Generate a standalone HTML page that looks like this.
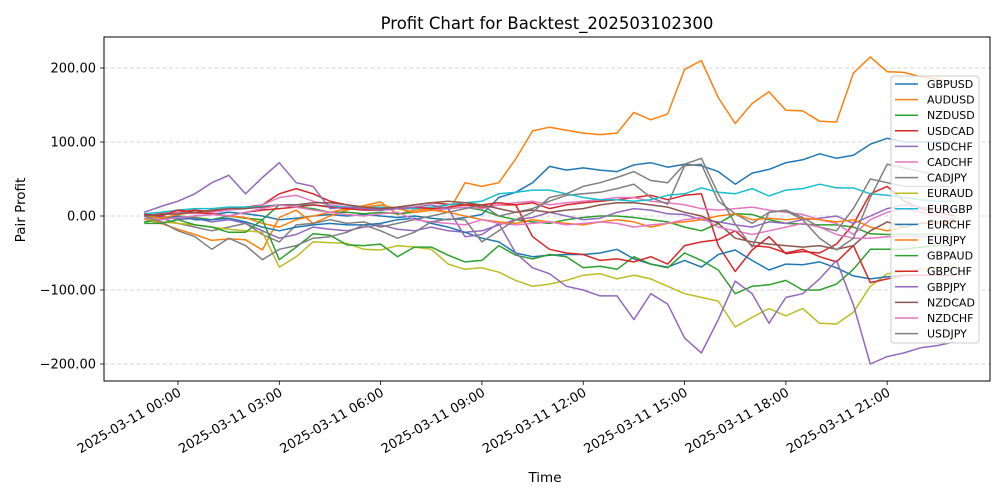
<!DOCTYPE html>
<html><head><meta charset="utf-8"><style>
html,body{margin:0;padding:0;background:#fff;}
svg{display:block;font-family:"DejaVu Sans","Liberation Sans",sans-serif;}
</style></head><body>
<svg id="chart" width="1000" height="500" viewBox="0 0 1000 500" xmlns="http://www.w3.org/2000/svg">
<rect x="0" y="0" width="1000" height="500" fill="#fff"/>
<text x="547" y="29" font-size="16.5" text-anchor="middle" fill="#000">Profit Chart for Backtest_202503102300</text>
<g id="grid"></g>
<g id="series"></g>
<rect x="104" y="37" width="886" height="344" fill="none" stroke="#000" stroke-width="1"/>
<g id="axes"></g>
<text x="545" y="482" font-size="13.5" text-anchor="middle">Time</text>
<text transform="translate(25,210) rotate(-90)" font-size="13.5" text-anchor="middle">Pair Profit</text>
<g id="legend"></g>
</svg>
<script>
const hours = [];
for (let i = 0; i <= 48; i++) hours.push(-1 + i * 0.5);
const yTicks = [200, 100, 0, -100, -200];
const yTickLabels = ["200.00", "100.00", "0.00", "\u2212100.00", "\u2212200.00"];
const xTicks = [0, 3, 6, 9, 12, 15, 18, 21];
const xTickLabels = ["2025-03-11 00:00","2025-03-11 03:00","2025-03-11 06:00","2025-03-11 09:00","2025-03-11 12:00","2025-03-11 15:00","2025-03-11 18:00","2025-03-11 21:00"];
const pairNames = ["GBPUSD","AUDUSD","NZDUSD","USDCAD","USDCHF","CADCHF","CADJPY","EURAUD","EURGBP","EURCHF","EURJPY","GBPAUD","GBPCHF","GBPJPY","NZDCAD","NZDCHF","USDJPY"];
const pairColors = ["#1f77b4","#ff7f0e","#2ca02c","#d62728","#9467bd","#e377c2","#7f7f7f","#bcbd22","#17becf","#1f77b4","#ff7f0e","#2ca02c","#d62728","#9467bd","#8c564b","#e377c2","#7f7f7f"];
const GBPUSD = [0,-2,-3,0,2,5,3,0,-5,-3,0,2,0,2,0,-2,0,-3,-5,-2,2,25,32,45,67,62,65,62,60,69,72,66,70,68,60,43,58,63,72,76,84,78,82,97,105,100,100,100,100];
const AUDUSD = [-4,-10,-18,-25,-33,-31,-32,-46,-2,8,-10,0,8,14,19,2,8,10,5,45,40,45,77,115,120,116,112,110,112,140,130,138,198,210,160,125,152,168,143,142,128,127,193,215,195,194,188,185,180];
const NZDUSD = [-8,-5,0,-2,-5,0,-3,-5,15,12,10,5,5,3,5,3,5,8,10,12,8,0,-5,-8,-10,-5,-2,0,0,-2,-5,-8,-15,-20,-10,3,2,-5,-10,-11,-12,-12,-15,-24,-25,-25,-25,-25,-25];
const USDCAD = [0,3,5,8,6,10,12,15,30,37,30,20,15,12,10,12,15,18,16,15,12,15,15,18,10,15,18,20,22,25,28,22,28,30,-40,-75,-46,-28,-51,-48,-50,-38,-11,30,40,20,10,5,0];
const USDCHF = [3,0,-5,-3,-8,-5,-10,-20,-30,-25,-15,-18,-20,-15,-12,-18,-20,-15,-20,-22,-20,-12,-5,-2,5,0,-5,-3,5,10,8,3,2,-5,-8,-12,-15,-8,-10,-5,-3,0,-10,0,10,15,12,10,10];
const CADCHF = [0,2,5,3,5,8,10,15,25,28,20,15,12,10,8,10,5,8,10,12,10,15,18,20,15,18,20,22,25,25,20,18,15,10,8,10,12,8,5,2,-5,-10,-25,-5,5,10,5,0,-5];
const CADJPY = [2,-3,-10,-15,-20,-15,-10,-25,-35,-12,-10,-5,-10,-8,-15,-10,-5,0,5,10,15,0,5,10,20,28,30,32,37,43,25,16,68,70,20,3,-10,5,8,-2,-15,-20,10,50,45,40,40,40,40];
const EURAUD = [-3,-8,-10,-12,-15,-18,-20,-22,-69,-55,-35,-36,-37,-45,-46,-40,-42,-45,-65,-72,-70,-76,-87,-95,-92,-87,-80,-78,-85,-80,-85,-95,-105,-110,-115,-150,-137,-125,-135,-125,-145,-146,-130,-95,-78,-75,-72,-70,-68];
const EURGBP = [3,5,8,10,10,12,12,13,15,15,15,13,12,12,12,10,10,12,15,18,20,30,32,35,35,30,25,22,22,20,22,28,30,38,32,30,37,27,35,37,43,38,38,30,28,25,22,20,20];
const EURCHF = [0,-3,0,-5,-5,-3,-8,-15,-20,-15,-12,-10,-12,-12,-10,-5,-3,-10,-15,-22,-30,-35,-50,-55,-53,-52,-52,-50,-45,-58,-65,-69,-60,-69,-52,-46,-60,-73,-65,-66,-62,-70,-81,-85,-82,-80,-80,-80,-80];
const EURJPY = [0,-3,2,5,3,0,-2,-10,-15,-5,0,5,10,12,15,10,5,8,5,0,-5,-8,-10,-5,-8,-10,-12,-8,-5,-8,-15,-10,-8,-5,0,3,-5,-3,-5,-3,-5,-8,-5,-15,-20,-15,-10,-10,-10];
const GBPAUD = [-10,-10,-5,-12,-15,-22,-22,-5,-59,-42,-24,-26,-39,-40,-38,-55,-42,-42,-53,-62,-60,-40,-53,-58,-52,-55,-70,-68,-72,-55,-65,-70,-50,-60,-73,-105,-95,-93,-87,-100,-100,-92,-72,-45,-45,-45,-42,-40,-40];
const GBPCHF = [2,0,8,5,3,0,5,8,10,12,15,12,10,8,8,10,12,10,12,15,15,18,15,-28,-45,-50,-52,-60,-58,-62,-55,-65,-40,-35,-32,-20,-40,-42,-50,-45,-55,-62,-40,-90,-85,-80,-80,-80,-80];
const GBPJPY = [5,13,20,30,45,55,30,52,72,45,40,10,12,10,8,10,12,15,10,-28,-25,-10,-50,-70,-78,-95,-100,-108,-108,-140,-105,-119,-165,-185,-140,-88,-105,-145,-110,-105,-85,-60,-120,-200,-190,-185,-178,-175,-170];
const NZDCAD = [0,2,3,5,8,10,10,12,15,15,18,18,15,12,10,12,15,18,20,18,15,10,5,8,5,8,10,15,18,18,15,12,5,0,-10,-30,-35,-38,-40,-42,-40,-45,-40,-20,-8,-15,-10,-8,-5];
const NZDCHF = [-3,-5,-2,0,2,0,5,10,15,12,8,5,2,0,3,5,-5,-8,-10,-12,-5,-10,-12,-10,-8,-12,-10,-8,-10,-15,-12,-10,-5,-2,-15,-20,-25,-20,-15,-10,-15,-25,-30,-30,-28,-28,-28,-28,-28];
const USDJPY = [0,-8,-20,-28,-45,-30,-40,-59,-45,-40,-30,-28,-22,-12,-20,-30,-22,-8,-4,-5,-35,-20,-5,5,25,30,40,45,52,60,48,45,70,78,30,-11,-42,5,7,-5,-30,-46,-30,25,70,65,60,55,50];
const seriesValues = [GBPUSD,AUDUSD,NZDUSD,USDCAD,USDCHF,CADCHF,CADJPY,EURAUD,EURGBP,EURCHF,EURJPY,GBPAUD,GBPCHF,GBPJPY,NZDCAD,NZDCHF,USDJPY];

const NS = "http://www.w3.org/2000/svg";
function xScale(h){ return 178 + (h) * 33.77; }
function yScale(v){ return 216 - v * 0.74; }
function mk(tag, attrs, parent){ const e = document.createElementNS(NS, tag); for (const k in attrs) e.setAttribute(k, attrs[k]); parent.appendChild(e); return e; }

const grid = document.getElementById('grid');
const axes = document.getElementById('axes');
yTicks.forEach((v, i) => {
  const y = yScale(v);
  const gl = mk('line', {x1:104, x2:990, y1:y, y2:y, stroke:'#b0b0b0', 'stroke-width':0.8, 'stroke-dasharray':'4,2.5', opacity:0.7}, grid);
  
  
  const tk = mk('line', {x1:100, x2:104, y1:y, y2:y, stroke:'#000', 'stroke-width':0.8}, axes);
  
  
  const t = mk('text', {x:96, y:y+4.5, 'font-size':13, 'text-anchor':'end'}, axes);
  t.textContent = yTickLabels[i];
  
  
});
xTicks.forEach((h, i) => {
  const x = xScale(h);
  const tk = mk('line', {x1:x, x2:x, y1:381, y2:385, stroke:'#000', 'stroke-width':0.8}, axes);
  
  
  const t = mk('text', {transform:'translate(' + (x+4) + ',395) rotate(-30)', 'font-size':13, 'text-anchor':'end'}, axes);
  t.textContent = xTickLabels[i];
  
  
});

const sg = document.getElementById('series');
seriesValues.forEach((vals, si) => {
  const pts = vals.map((v, i) => xScale(hours[i]).toFixed(1) + ',' + yScale(v).toFixed(1)).join(' ');
  const pl = mk('polyline', {points:pts, fill:'none', stroke:pairColors[si], 'stroke-width':1.5, 'stroke-linejoin':'round'}, sg);
  
  
});

const lg = document.getElementById('legend');
const box = mk('rect', {x:891, y:76, width:88, height:267, rx:3, fill:'#fff', 'fill-opacity':0.8, stroke:'#ccc', 'stroke-width':1}, lg);


pairNames.forEach((n, i) => {
  const y = 84 + i * 15.6;
  const g = mk('g', {}, lg);
  
  
  mk('line', {x1:895, x2:918, y1:y, y2:y, stroke:pairColors[i], 'stroke-width':1.5}, g);
  const t = mk('text', {x:927, y:y+4, 'font-size':11}, g);
  t.textContent = n;
});
</script>
</body></html>
